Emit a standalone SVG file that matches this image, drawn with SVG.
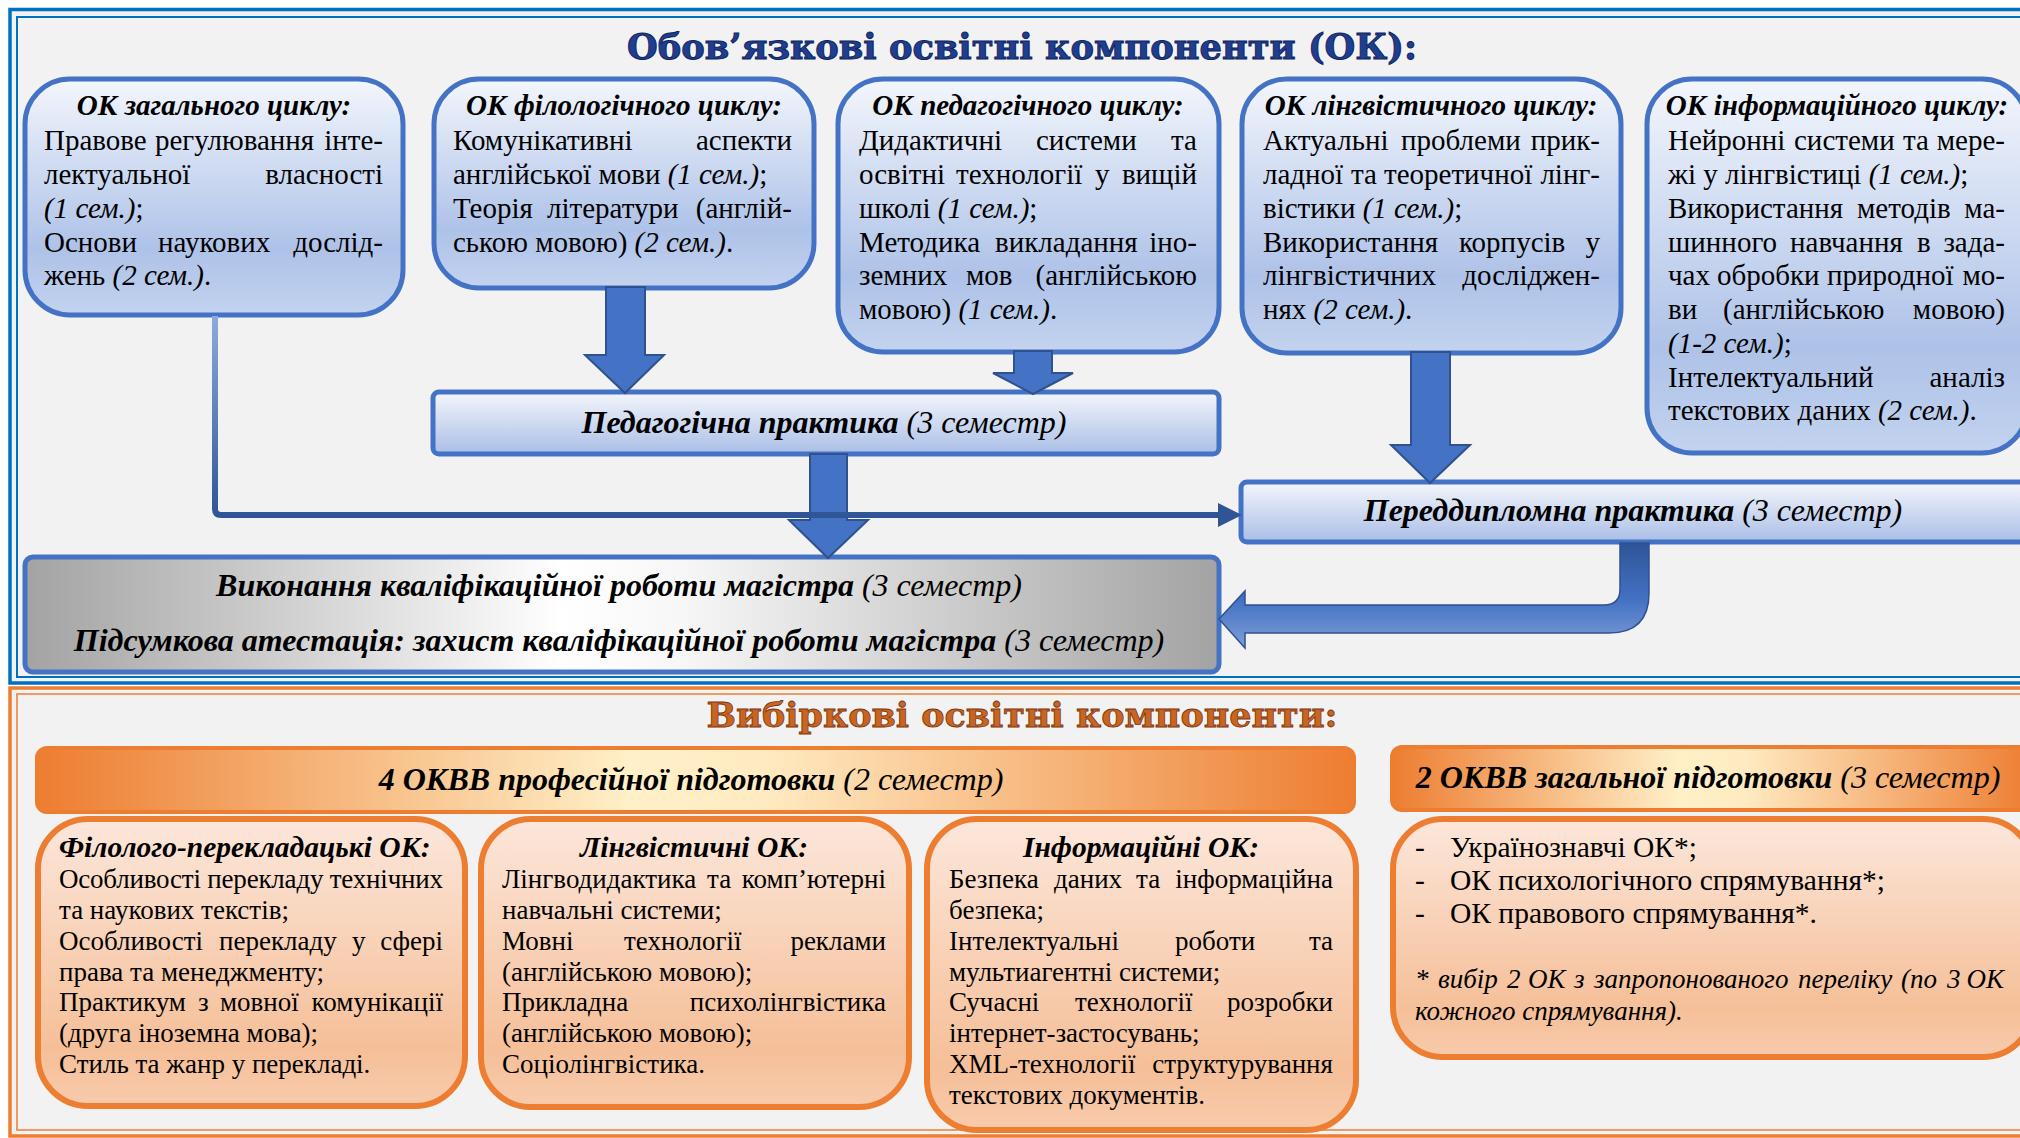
<svg xmlns="http://www.w3.org/2000/svg" width="2020" height="1138" viewBox="0 0 2020 1138">
<defs>
<style>
text{font-family:"Liberation Serif","Times New Roman",serif;fill:#000}
.s29{font-size:29px}
.s295{font-size:29.5px}
.s27{font-size:27px}
.h{font-size:29px;font-weight:bold;font-style:italic}
.h2{font-size:29.5px;font-weight:bold;font-style:italic}
.i{font-style:italic}
.bi{font-weight:bold;font-style:italic}
.e{text-anchor:end}
.m{text-anchor:middle}
.lab{font-size:32px}
.nb{fill:url(#gBlue);stroke:#4472C4;stroke-width:5}
.bar{fill:url(#gBar);stroke:#4472C4;stroke-width:5}
.no{fill:url(#gOr);stroke:#ED7D31;stroke-width:6}
.ban{fill:url(#gBan);stroke:#ED7D31;stroke-width:4}
.ar{fill:#4472C4;stroke:#2F528F;stroke-width:2}
</style>
<linearGradient id="gBlue" x1="0" y1="0" x2="0" y2="1">
<stop offset="0" stop-color="#F3F6FC"/><stop offset="0.72" stop-color="#AEC2E8"/><stop offset="1" stop-color="#C3D3EF"/>
</linearGradient>
<linearGradient id="gBar" x1="0" y1="0" x2="0" y2="1">
<stop offset="0" stop-color="#F4F6FC"/><stop offset="1" stop-color="#A9BEE6"/>
</linearGradient>
<linearGradient id="gGray" x1="0" y1="0" x2="1" y2="0">
<stop offset="0" stop-color="#A3A3A3"/><stop offset="0.45" stop-color="#FFFFFF"/><stop offset="0.55" stop-color="#F7F7F7"/><stop offset="1" stop-color="#A3A3A3"/>
</linearGradient>
<linearGradient id="gOr" x1="0" y1="0" x2="0" y2="1">
<stop offset="0" stop-color="#FCE7DB"/><stop offset="0.8" stop-color="#F5BF98"/><stop offset="1" stop-color="#F8CBAD"/>
</linearGradient>
<linearGradient id="gBan" x1="0" y1="0" x2="1" y2="0">
<stop offset="0" stop-color="#ED7D31"/><stop offset="0.45" stop-color="#FFF0C8"/><stop offset="0.55" stop-color="#FFEBC2"/><stop offset="1" stop-color="#ED7D31"/>
</linearGradient>
<linearGradient id="gLine" gradientUnits="userSpaceOnUse" x1="0" y1="316" x2="0" y2="515">
<stop offset="0" stop-color="#8FAADC"/><stop offset="1" stop-color="#2F5597"/>
</linearGradient>
<linearGradient id="gBent" gradientUnits="userSpaceOnUse" x1="0" y1="543" x2="0" y2="648">
<stop offset="0" stop-color="#2F5597"/><stop offset="0.55" stop-color="#4472C4"/><stop offset="1" stop-color="#7F9FD8"/>
</linearGradient>
</defs>
<rect x="0" y="0" width="2020" height="1138" fill="#FFFFFF"/>
<g id="frames">
<rect x="10" y="9.5" width="2040" height="673.5" fill="#F2F2F2" stroke="#0070C0" stroke-width="3.5"/>
<rect x="17" y="17" width="2030" height="660" fill="none" stroke="#0070C0" stroke-width="2"/>
<rect x="10" y="688" width="2040" height="448" fill="#F2F2F2" stroke="#ED7D31" stroke-width="3.5"/>
<rect x="17" y="694" width="2030" height="436" fill="none" stroke="#ED7D31" stroke-width="1.5"/>
<text x="1022" y="59" textLength="790" lengthAdjust="spacingAndGlyphs" style="font-family:'DejaVu Serif',serif;font-size:36px;font-weight:bold;fill:#1F3E8F;stroke:#0E2460;stroke-width:1" text-anchor="middle">Обов’язкові освітні компоненти (ОК):</text>
<text x="1022" y="727" textLength="631" lengthAdjust="spacingAndGlyphs" style="font-family:'DejaVu Serif',serif;font-size:34px;font-weight:bold;fill:#C9651F;stroke:#7A3510;stroke-width:0.8" text-anchor="middle">Вибіркові освітні компоненти:</text>
</g>

<g id="ok-general">
<rect class="nb" x="25" y="79" width="378" height="236" rx="45"/>
<text class="h m" x="214" y="115">ОК загального циклу:</text>
<text class="s29" y="150"><tspan x="44">Правове </tspan><tspan x="155">регулювання </tspan><tspan x="383" class="e">інте-</tspan></text>
<text class="s29" y="184"><tspan x="44">лектуальної </tspan><tspan x="383" class="e">власності</tspan></text>
<text class="s29" x="44" y="218"><tspan class="i">(1 сем.)</tspan>;</text>
<text class="s29" y="252"><tspan x="44">Основи </tspan><tspan x="158">наукових </tspan><tspan x="383" class="e">дослід-</tspan></text>
<text class="s29" x="44" y="285">жень <tspan class="i">(2 сем.)</tspan>.</text>
</g>

<g id="ok-philological">
<rect class="nb" x="434" y="79" width="380" height="209" rx="45"/>
<text class="h m" x="624" y="115">ОК філологічного циклу:</text>
<text class="s29" y="150"><tspan x="453">Комунікативні </tspan><tspan x="792" class="e">аспекти</tspan></text>
<text class="s29" x="453" y="184">англійської мови <tspan class="i">(1 сем.)</tspan>;</text>
<text class="s29" y="218"><tspan x="453">Теорія </tspan><tspan x="547">літератури </tspan><tspan x="792" class="e">(англій-</tspan></text>
<text class="s29" x="453" y="252">ською мовою) <tspan class="i">(2 сем.)</tspan>.</text>
</g>

<g id="ok-pedagogical">
<rect class="nb" x="838" y="79" width="381" height="273" rx="45"/>
<text class="h m" x="1028" y="115">ОК педагогічного циклу:</text>
<text class="s29" y="150"><tspan x="859">Дидактичні </tspan><tspan x="1036">системи </tspan><tspan x="1197" class="e">та</tspan></text>
<text class="s29" y="184"><tspan x="859">освітні </tspan><tspan x="956">технології </tspan><tspan x="1095">у </tspan><tspan x="1197" class="e">вищій</tspan></text>
<text class="s29" x="859" y="218">школі <tspan class="i">(1 сем.)</tspan>;</text>
<text class="s29" y="252"><tspan x="859">Методика </tspan><tspan x="995">викладання </tspan><tspan x="1197" class="e">іно-</tspan></text>
<text class="s29" y="285"><tspan x="859">земних </tspan><tspan x="966">мов </tspan><tspan x="1197" class="e">(англійською</tspan></text>
<text class="s29" x="859" y="319">мовою) <tspan class="i">(1 сем.)</tspan>.</text>
</g>

<g id="ok-linguistic">
<rect class="nb" x="1242" y="79" width="379" height="274" rx="45"/>
<text class="h m" x="1431" y="115">ОК лінгвістичного циклу:</text>
<text class="s29" y="150"><tspan x="1263">Актуальні </tspan><tspan x="1401">проблеми </tspan><tspan x="1600" class="e">прик-</tspan></text>
<text class="s29" y="184"><tspan x="1263">ладної </tspan><tspan x="1351">та </tspan><tspan x="1384">теоретичної </tspan><tspan x="1600" class="e">лінг-</tspan></text>
<text class="s29" x="1263" y="218">вістики <tspan class="i">(1 сем.)</tspan>;</text>
<text class="s29" y="252"><tspan x="1263">Використання </tspan><tspan x="1459">корпусів </tspan><tspan x="1600" class="e">у</tspan></text>
<text class="s29" y="285"><tspan x="1263">лінгвістичних </tspan><tspan x="1600" class="e">досліджен-</tspan></text>
<text class="s29" x="1263" y="319">нях <tspan class="i">(2 сем.)</tspan>.</text>
</g>

<g id="ok-informational">
<rect class="nb" x="1647" y="79" width="380" height="374" rx="45"/>
<text class="h m" x="1837" y="115">ОК інформаційного циклу:</text>
<text class="s29" y="150"><tspan x="1668">Нейронні </tspan><tspan x="1794">системи </tspan><tspan x="1903">та </tspan><tspan x="2005" class="e">мере-</tspan></text>
<text class="s29" x="1668" y="184">жі у лінгвістиці <tspan class="i">(1 сем.)</tspan>;</text>
<text class="s29" y="218"><tspan x="1668">Використання </tspan><tspan x="1857">методів </tspan><tspan x="2005" class="e">ма-</tspan></text>
<text class="s29" y="252"><tspan x="1668">шинного </tspan><tspan x="1790">навчання </tspan><tspan x="1917">в </tspan><tspan x="2005" class="e">зада-</tspan></text>
<text class="s29" y="285"><tspan x="1668">чах </tspan><tspan x="1717">обробки </tspan><tspan x="1827">природної </tspan><tspan x="2005" class="e">мо-</tspan></text>
<text class="s29" y="319"><tspan x="1668">ви </tspan><tspan x="1723">(англійською </tspan><tspan x="2005" class="e">мовою)</tspan></text>
<text class="s29" x="1668" y="353"><tspan class="i">(1-2 сем.)</tspan>;</text>
<text class="s29" y="387"><tspan x="1668">Інтелектуальний </tspan><tspan x="2005" class="e">аналіз</tspan></text>
<text class="s29" x="1668" y="420">текстових даних <tspan class="i">(2 сем.)</tspan>.</text>
</g>

<g id="pedagogical-practice">
<rect class="bar" x="433" y="392" width="786" height="62" rx="6"/>
<text class="lab m" x="824" y="433"><tspan class="bi">Педагогічна практика</tspan><tspan class="i"> (3 семестр)</tspan></text>
</g>

<g id="prediploma-practice">
<rect class="bar" x="1241" y="482" width="790" height="60" rx="6"/>
<text class="lab m" x="1633" y="521"><tspan class="bi">Переддипломна практика</tspan><tspan class="i"> (3 семестр)</tspan></text>
</g>

<g id="qualification-work">
<rect x="25" y="557" width="1194" height="115" rx="8" fill="url(#gGray)" stroke="#4472C4" stroke-width="5"/>
<text class="lab m" x="619" y="596"><tspan class="bi">Виконання кваліфікаційної роботи магістра</tspan><tspan class="i"> (3 семестр)</tspan></text>
<text class="lab m" x="619" y="651"><tspan class="bi">Підсумкова атестація: захист кваліфікаційної роботи магістра</tspan><tspan class="i"> (3 семестр)</tspan></text>
</g>

<g id="connectors">
<polygon class="ar" points="606,287 645,287 645,355 664,355 625,393 585,355 606,355"/>
<polygon class="ar" points="1014,351 1052,351 1052,373 1073,373 1033,394 993,373 1014,373"/>
<polygon class="ar" points="1411,352 1450,352 1450,445 1470,445 1430,483 1391,445 1411,445"/>
<polygon class="ar" points="810,454 847,454 847,520 868,520 828,558 789,520 810,520"/>
<path d="M1620,543 L1649,543 L1649,593 Q1649,633 1609,633 L1245,633 L1245,648 L1219,619 L1245,591 L1245,605 L1604,605 Q1620,605 1620,589 Z" fill="url(#gBent)" stroke="#2F528F" stroke-width="1.5"/>
<path d="M215,316 L215,509 Q215,515 221,515 L1219,515" fill="none" stroke="url(#gLine)" stroke-width="6"/>
<polygon points="1218,503 1242,515 1218,527" fill="#2F5597"/>
</g>

<g id="banner-professional">
<rect class="ban" x="37" y="748" width="1317" height="64" rx="10"/>
<text class="lab m" x="691" y="790"><tspan class="bi">4 ОКВВ професійної підготовки</tspan><tspan class="i"> (2 семестр)</tspan></text>
</g>

<g id="banner-general">
<rect class="ban" x="1392" y="747" width="640" height="63" rx="10"/>
<text class="lab m" x="1708" y="788"><tspan class="bi">2 ОКВВ загальної підготовки</tspan><tspan class="i"> (3 семестр)</tspan></text>
</g>

<g id="philological-translation">
<rect class="no" x="38" y="819" width="427" height="287" rx="50"/>
<text class="h2" x="59" y="857">Філолого-перекладацькі ОК:</text>
<text class="s27" x="59" y="888" textLength="384" lengthAdjust="spacing">Особливості перекладу технічних</text>
<text class="s27" x="59" y="919">та наукових текстів;</text>
<text class="s27" y="950"><tspan x="59">Особливості </tspan><tspan x="219">перекладу </tspan><tspan x="352">у </tspan><tspan x="443" class="e">сфері</tspan></text>
<text class="s27" x="59" y="981">права та менеджменту;</text>
<text class="s27" y="1011"><tspan x="59">Практикум </tspan><tspan x="198">з </tspan><tspan x="220">мовної </tspan><tspan x="443" class="e">комунікації</tspan></text>
<text class="s27" x="59" y="1042">(друга іноземна мова);</text>
<text class="s27" x="59" y="1073">Стиль та жанр у перекладі.</text>
</g>

<g id="linguistic-electives">
<rect class="no" x="481" y="819" width="428" height="288" rx="50"/>
<text class="h2 m" x="694" y="857">Лінгвістичні ОК:</text>
<text class="s27" y="888"><tspan x="502">Лінгводидактика </tspan><tspan x="707">та </tspan><tspan x="886" class="e">комп’ютерні</tspan></text>
<text class="s27" x="502" y="919">навчальні системи;</text>
<text class="s27" y="950"><tspan x="502">Мовні </tspan><tspan x="624">технології </tspan><tspan x="886" class="e">реклами</tspan></text>
<text class="s27" x="502" y="981">(англійською мовою);</text>
<text class="s27" y="1011"><tspan x="502">Прикладна </tspan><tspan x="886" class="e">психолінгвістика</tspan></text>
<text class="s27" x="502" y="1042">(англійською мовою);</text>
<text class="s27" x="502" y="1073">Соціолінгвістика.</text>
</g>

<g id="information-electives">
<rect class="no" x="927" y="819" width="429" height="311" rx="50"/>
<text class="h2 m" x="1141" y="857">Інформаційні ОК:</text>
<text class="s27" y="888"><tspan x="949">Безпека </tspan><tspan x="1054">даних </tspan><tspan x="1136">та </tspan><tspan x="1333" class="e">інформаційна</tspan></text>
<text class="s27" x="949" y="919">безпека;</text>
<text class="s27" y="950"><tspan x="949">Інтелектуальні </tspan><tspan x="1175">роботи </tspan><tspan x="1333" class="e">та</tspan></text>
<text class="s27" x="949" y="981">мультиагентні системи;</text>
<text class="s27" y="1011"><tspan x="949">Сучасні </tspan><tspan x="1075">технології </tspan><tspan x="1333" class="e">розробки</tspan></text>
<text class="s27" x="949" y="1042">інтернет-застосувань;</text>
<text class="s27" y="1073"><tspan x="949">XML-технології </tspan><tspan x="1333" class="e">структурування</tspan></text>
<text class="s27" x="949" y="1104">текстових документів.</text>
</g>

<g id="general-electives">
<rect class="no" x="1393" y="819" width="640" height="238" rx="50"/>
<text class="s295" y="857"><tspan x="1415">- </tspan><tspan x="1450">Українознавчі ОК*;</tspan></text>
<text class="s295" y="890"><tspan x="1415">- </tspan><tspan x="1450">ОК психологічного спрямування*;</tspan></text>
<text class="s295" y="923"><tspan x="1415">- </tspan><tspan x="1450">ОК правового спрямування*.</tspan></text>
<text class="s27 i" y="988"><tspan x="1415">* </tspan><tspan x="1438">вибір </tspan><tspan x="1507">2 </tspan><tspan x="1528">ОК </tspan><tspan x="1574">з </tspan><tspan x="1594">запропонованого </tspan><tspan x="1798">переліку </tspan><tspan x="1901">(по </tspan><tspan x="1947">3 </tspan><tspan x="2004" class="e">ОК</tspan></text>
<text class="s27 i" x="1415" y="1020">кожного спрямування).</text>
</g>
</svg>
